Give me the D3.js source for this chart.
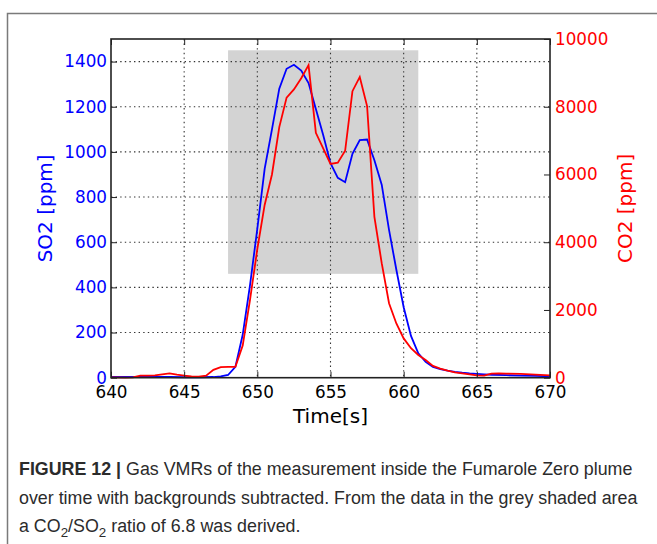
<!DOCTYPE html>
<html>
<head>
<meta charset="utf-8">
<script src="https://cdn.jsdelivr.net/npm/d3@7"></script>
<style>
    body { margin: 0; background: #fff; }
    .tick text { font-family: "DejaVu Sans", sans-serif; }
</style>
</head>
<body>
<div id="chart"></div>
<script>
// time [s] of each sample
var time = [640, 641, 642, 643, 644, 645, 646, 647, 647.5, 648, 648.5, 649, 649.5, 650, 650.5,
    651, 651.5, 652, 652.5, 653, 653.5, 654, 654.5, 655, 655.5, 656, 656.5, 657, 657.5, 658,
    658.5, 659, 659.5, 660, 660.5, 661, 661.5, 662, 662.5, 663, 663.5, 664, 664.5, 665, 665.5,
    666, 667, 668, 669, 670];
var so2 = [4, 3, 3, 3, 3, 2, 2, 3, 6, 12, 48, 190, 410, 660, 925,
    1100, 1280, 1368, 1386, 1360, 1305, 1190, 1075, 950, 885, 866, 992, 1052, 1055, 963,
    855, 655, 478, 312, 185, 108, 70, 48, 38, 31, 26, 22, 19, 17, 15,
    13, 11, 9, 8, 6];

var timeCo2 = [640, 641, 641.5, 642, 642.5, 643, 643.5, 644, 644.5, 645, 645.5, 646, 646.5, 647,
    647.5, 648, 648.5, 649, 649.5, 650, 650.5, 651, 651.5, 652, 652.5, 653, 653.5, 654, 654.5,
    655, 655.5, 656, 656.5, 657, 657.5, 658, 658.5, 659, 659.5, 660, 660.5, 661, 661.5, 662,
    662.5, 663, 663.5, 664, 664.5, 665, 665.5, 666, 666.5, 667, 668, 669, 670];
var co2 = [10, 5, 10, 60, 60, 70, 100, 130, 90, 60, 40, 30, 60, 230,
    310, 320, 320, 950, 2300, 3800, 5100, 6000, 7400, 8270, 8510, 8840, 9230, 7230, 6770,
    6310, 6350, 6700, 8460, 8880, 8020, 4750, 3380, 2200, 1600, 1160, 870, 670, 520, 350,
    270, 210, 160, 130, 100, 70, 60, 120, 130, 120, 110, 90, 70];

var xTicks = [640, 645, 650, 655, 660, 665, 670];
var so2Ticks = [0, 200, 400, 600, 800, 1000, 1200, 1400];
var co2Ticks = [0, 2000, 4000, 6000, 8000, 10000];
var shadedTime = [648, 661];
var shadedSo2 = [460, 1450];   // grey area, on the SO2 scale

var captionLines = [
    [{t: "FIGURE 12 |", b: true}, {t: " Gas VMRs of the measurement inside the Fumarole Zero plume"}],
    [{t: "over time with backgrounds subtracted. From the data in the grey shaded area"}],
    [{t: "a CO"}, {t: "2", sub: true}, {t: "/SO"}, {t: "2", sub: true}, {t: " ratio of 6.8 was derived."}]
];

var W = 657, H = 544;
var pLeft = 111, pRight = 550, pTop = 39, pBottom = 377.7;

var svg = d3.select("#chart").append("svg")
    .attr("width", W)
    .attr("height", H);

// figure frame
svg.append("rect")
    .attr("x", 7.5).attr("y", 13.5)
    .attr("width", 700).attr("height", 600)
    .attr("fill", "none")
    .attr("stroke", "#7a7a7a")
    .attr("stroke-width", 1.5);

var x = d3.scaleLinear().domain([640, 670]).range([pLeft, pRight]);
var y = d3.scaleLinear().domain([0, 1500]).range([pBottom, pTop]);
var y2 = d3.scaleLinear().domain([0, 10000]).range([pBottom, pTop]);

// grey shaded area
svg.append("rect")
    .attr("x", x(shadedTime[0]))
    .attr("y", y(shadedSo2[1]))
    .attr("width", x(shadedTime[1]) - x(shadedTime[0]))
    .attr("height", y(shadedSo2[0]) - y(shadedSo2[1]))
    .attr("fill", "#d3d3d3");

// dotted grid
var grid = svg.append("g")
    .attr("stroke", "#333")
    .attr("stroke-width", 1.1)
    .attr("stroke-dasharray", "1.4,3.2");
grid.selectAll(".gx").data(xTicks.slice(1, -1)).enter()
    .append("line")
    .attr("x1", d => x(d)).attr("x2", d => x(d))
    .attr("y1", pTop).attr("y2", pBottom);
grid.selectAll(".gy").data(so2Ticks.slice(1)).enter()
    .append("line")
    .attr("x1", pLeft).attr("x2", pRight)
    .attr("y1", d => y(d)).attr("y2", d => y(d));

var lineSo2 = d3.line()
    .x((d, i) => x(time[i]))
    .y(d => y(d));
var lineCo2 = d3.line()
    .x((d, i) => x(timeCo2[i]))
    .y(d => y2(d));

svg.append("path")
    .datum(so2)
    .attr("d", lineSo2)
    .attr("fill", "none")
    .attr("stroke", "#0000ff")
    .attr("stroke-width", 1.8);

svg.append("path")
    .datum(co2)
    .attr("d", lineCo2)
    .attr("fill", "none")
    .attr("stroke", "#ff0000")
    .attr("stroke-width", 1.8);

// axes, ticks pointing inwards
var fs = 16.8;
var gx = svg.append("g")
    .attr("transform", "translate(0," + pBottom + ")")
    .call(d3.axisBottom(x).tickValues(xTicks).tickSize(-6).tickPadding(8).tickFormat(d3.format("d")));
gx.selectAll("text").attr("fill", "#000").style("font-size", fs + "px");

svg.append("g")
    .attr("transform", "translate(0," + pTop + ")")
    .call(d3.axisTop(x).tickValues(xTicks).tickSize(-6).tickFormat(""));

var gy = svg.append("g")
    .attr("transform", "translate(" + pLeft + ",0)")
    .call(d3.axisLeft(y).tickValues(so2Ticks).tickSize(-6).tickPadding(4).tickFormat(d3.format("d")));
gy.selectAll("text").attr("fill", "#0000ff").style("font-size", fs + "px");

var gy2 = svg.append("g")
    .attr("transform", "translate(" + pRight + ",0)")
    .call(d3.axisRight(y2).tickValues(co2Ticks).tickSize(-6).tickPadding(5).tickFormat(d3.format("d")));
gy2.selectAll("text").attr("fill", "#ff0000").style("font-size", fs + "px");

svg.selectAll(".domain").remove();
svg.selectAll(".tick line").attr("stroke", "#222").attr("stroke-width", 1);

svg.append("rect")
    .attr("x", pLeft).attr("y", pTop)
    .attr("width", pRight - pLeft).attr("height", pBottom - pTop)
    .attr("fill", "none")
    .attr("stroke", "#222")
    .attr("stroke-width", 1.6);

// axis labels
svg.append("text")
    .attr("x", (pLeft + pRight) / 2).attr("y", 422.7)
    .attr("text-anchor", "middle")
    .style("font-family", "DejaVu Sans")
    .style("font-size", "20px")
    .text("Time[s]");

svg.append("text")
    .attr("transform", "translate(51.7," + (pTop + pBottom) / 2 + ")rotate(-90)")
    .attr("text-anchor", "middle")
    .attr("fill", "#0000ff")
    .style("font-family", "DejaVu Sans")
    .style("font-size", "20px")
    .text("SO2 [ppm]");

svg.append("text")
    .attr("transform", "translate(631.7," + (pTop + pBottom) / 2 + ")rotate(-90)")
    .attr("text-anchor", "middle")
    .attr("fill", "#ff0000")
    .style("font-family", "DejaVu Sans")
    .style("font-size", "20px")
    .text("CO2 [ppm]");

// caption
var cap = svg.append("g")
    .style("font-family", "Liberation Sans, Arial, sans-serif")
    .attr("fill", "#2b2b2b");
var capFs = 18;
var texts = cap.selectAll("text").data(captionLines).enter()
    .append("text")
    .attr("x", 19)
    .attr("y", (d, i) => 475 + i * 28.5);
texts.each(function(parts) {
    var t = d3.select(this);
    parts.forEach(function(p, j) {
        var s = t.append("tspan").text(p.t);
        if (p.b) s.style("font-weight", "bold");
        if (p.sub) s.attr("dy", 5).attr("class", "sub");
        else if (j > 0 && parts[j - 1].sub) s.attr("dy", -5);
    });
});
function setCapSize(size) {
    texts.style("font-size", size + "px");
    texts.selectAll(".sub").style("font-size", (size * 0.75) + "px");
}
setCapSize(capFs);
// fit the long second line to its width in the figure
var w2 = texts.filter((d, i) => i === 1).node().getComputedTextLength();
setCapSize(capFs * 619 / w2);
</script>
</body>
</html>
